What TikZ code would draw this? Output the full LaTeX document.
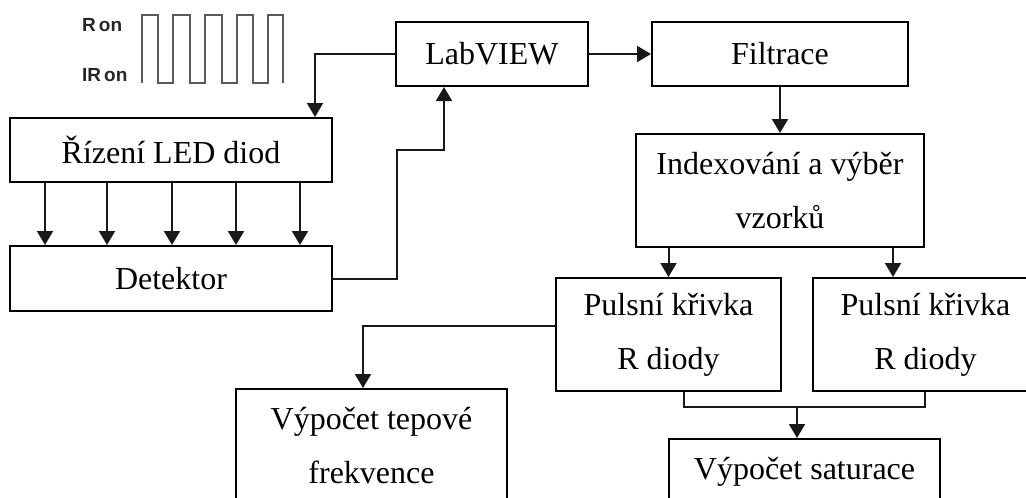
\documentclass[tikz,border=0pt]{standalone}
\usepackage{fontspec}
\setmainfont{Liberation Serif}
\newfontfamily\wavefont{Liberation Sans}
\usetikzlibrary{arrows.meta}
\tikzset{
  box/.style={draw=black, line width=2pt, inner sep=0pt, align=center,
    font=\fontsize{32}{54}\selectfont, text=black},
  conn/.style={draw=black!90, line width=2pt},
  arr/.style={conn, -{Triangle[length=14pt,width=16pt]}},
  wave/.style={draw=black!65, line width=2pt, line join=miter},
  wlabel/.style={font=\wavefont\bfseries\fontsize{19}{22}\selectfont, text=black!85, anchor=west, inner sep=0pt}
}
\begin{document}
\begin{tikzpicture}[x=1pt,y=-1pt]
\useasboundingbox (0,0) rectangle (1026,498);
\clip (0,0) rectangle (1026,498);
\fill[white] (0,0) rectangle (1026,498);

% waveform
\node[wlabel] (ron) at (82,25) {R\hspace{3pt}on};
\node[wlabel] (iron) at (82,75) {IR\hspace{3pt}on};
\draw[wave] (142,83) -- (142,15) -- (158,15) -- (158,83) -- (173,83) -- (173,15)
  -- (190,15) -- (190,83) -- (205,83) -- (205,15) -- (222,15) -- (222,83)
  -- (237,83) -- (237,15) -- (253,15) -- (253,83) -- (268,83) -- (268,15)
  -- (283,15) -- (283,83);

% boxes
\node[box, minimum width=322pt, minimum height=64pt] (led) at (171,150) {Řízení LED diod};
\node[box, minimum width=322pt, minimum height=65pt] (det) at (171,278.5) {Detektor};
\node[box, minimum width=192pt, minimum height=64pt] (lab) at (492,54) {LabVIEW};
\node[box, minimum width=256pt, minimum height=64pt] (fil) at (780,54) {Filtrace};
\node[box, minimum width=288pt, minimum height=113pt] (idx) at (780,190.5) {Indexování a výběr\\vzorků};
\node[box, minimum width=225pt, minimum height=113pt] (p1) at (668.5,334.5) {Pulsní křivka\\R diody};
\node[box, minimum width=225pt, minimum height=113pt] (p2) at (925.5,334.5) {Pulsní křivka\\R diody};
\node[box, minimum width=271pt, minimum height=113pt] (tep) at (371.5,445.5) {Výpočet tepové\\frekvence};
\node[box, minimum width=271pt, minimum height=66pt, anchor=north] (sat) at (804.5,438) {Výpočet saturace};

% connectors
\coordinate (ledin) at (315,54);
\draw[arr] (lab.west) -- (ledin) -- (led.north -| ledin);
\foreach \xx in {45,107,172,236,300}
  \draw[arr] (led.south -| \xx,0) -- (det.north -| \xx,0);
\coordinate (dv) at (397,278.5);
\coordinate (dt) at (397,150);
\coordinate (lu) at (444,150);
\draw[arr] (det.east) -- (dv) -- (dt) -- (lu) -- (lab.south -| lu);
\draw[arr] (lab.east) -- (fil.west);
\draw[arr] (fil.south) -- (idx.north);
\draw[arr] (idx.south -| p1.north) -- (p1.north);
\coordinate (p2in) at (893,0);
\draw[arr] (idx.south -| p2in) -- (p2.north -| p2in);
\coordinate (tl) at (363,326);
\draw[arr] (p1.west |- tl) -- (tl) -- (tep.north -| tl);
\coordinate (j1) at (684,407);
\coordinate (j2) at (925,407);
\coordinate (jm) at (797,407);
\draw[conn] (p1.south -| j1) -- (j1) -- (j2) -- (p2.south -| j2);
\draw[arr] (jm) -- (sat.north -| jm);
\end{tikzpicture}
\end{document}
